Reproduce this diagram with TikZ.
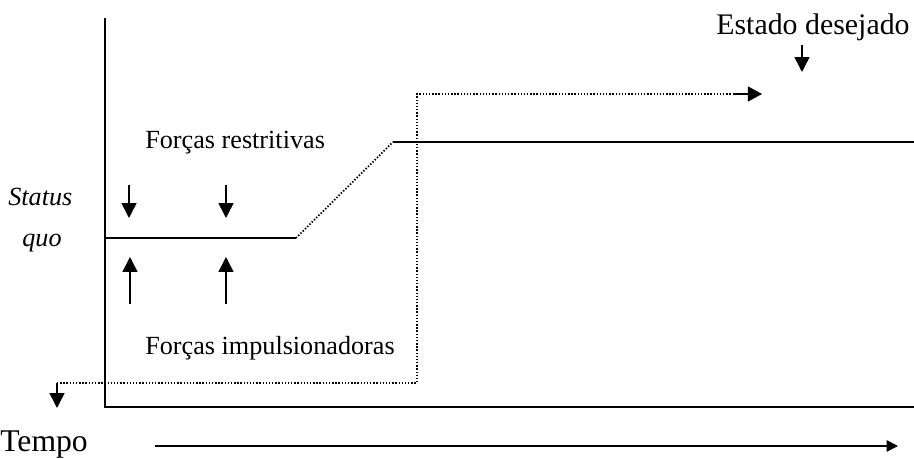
\documentclass[tikz,border=0pt]{standalone}
\usepackage{fontspec}
\setmainfont{Liberation Serif}
\usetikzlibrary{arrows.meta}

\tikzset{
	lbl/.style={inner sep=0pt, font=\fontsize{14.9}{17}\selectfont},
	biglbl/.style={inner sep=0pt, font=\fontsize{17}{20}\selectfont},
	solidline/.style={black, line width=1.1pt},
	dotline/.style={black, line width=1pt, dash pattern=on 0.8pt off 1pt},
	forca/.style={black, line width=0.9pt, -{Triangle[length=8.5pt,width=8.5pt]}}
}

\begin{document}
\begin{tikzpicture}[x=0.02cm, y=-0.02cm]
			\useasboundingbox (0,0) rectangle (914,459);
			% eixos
			\coordinate (ytop) at (105,18);
			\coordinate (orig) at (105,407);
			\coordinate (xend) at (914,407);
			\draw[solidline] (ytop) -- (orig) -- (xend);
			% status quo e estado desejado
			\coordinate (sq0) at (105,238);
			\coordinate (sq1) at (296,238);
			\coordinate (ed0) at (393,142);
			\coordinate (ed1) at (914,142);
			\draw[solidline] (sq0) -- (sq1);
			\draw[dotline] (sq1) -- (ed0);
			\draw[solidline] (ed0) -- (ed1);
			% caminho pontilhado
			\coordinate (p0) at (57,383);
			\coordinate (p1) at (417,383);
			\coordinate (p2) at (417,94);
			\coordinate (p3) at (762,94);
			\coordinate (p4) at (57,408);
			\draw[dotline] (p0) -- (p1) -- (p2) -- ([xshift=-14]p3);
			\draw[black, line width=0.8pt, -{Triangle[length=8pt,width=8.5pt]}] ([xshift=-16]p3) -- (p3);
			\draw[forca] (p0) -- (p4);
			% textos
			\node[lbl, anchor=west] (restr) at (145,143) {Forças restritivas};
			\node[lbl, anchor=west] (impul) at (145,348) {Forças impulsionadoras};
			\node[lbl, anchor=west] (status) at (8,197) {\itshape Status};
			\node[lbl, anchor=west] (quo) at (22,243) {\itshape quo};
			\node[biglbl] (desej) at (813,27) {Estado desejado};
			\node[font=\fontsize{18}{21}\selectfont, inner sep=0pt, anchor=west] (tempo) at (0,445) {Tempo};
			% forcas
			\coordinate (r1a) at (129,185);
			\coordinate (r1b) at (129,218);
			\coordinate (r2a) at (226,185);
			\coordinate (r2b) at (226,218);
			\coordinate (i1a) at (130,304);
			\coordinate (i1b) at (130,257);
			\coordinate (i2a) at (226,304);
			\coordinate (i2b) at (226,257);
			\draw[forca] (r1a) -- (r1b);
			\draw[forca] (r2a) -- (r2b);
			\draw[forca] (i1a) -- (i1b);
			\draw[forca] (i2a) -- (i2b);
			\coordinate (d0) at (802,45);
			\coordinate (d1) at (802,72);
			\draw[forca] (d0) -- (d1);
			% tempo
			\coordinate (t0) at (155,446);
			\coordinate (t1) at (898,446);
			\draw[black, line width=0.9pt, -{Triangle[length=6.5pt,width=6.5pt]}] (t0) -- (t1);
\end{tikzpicture}
\end{document}
